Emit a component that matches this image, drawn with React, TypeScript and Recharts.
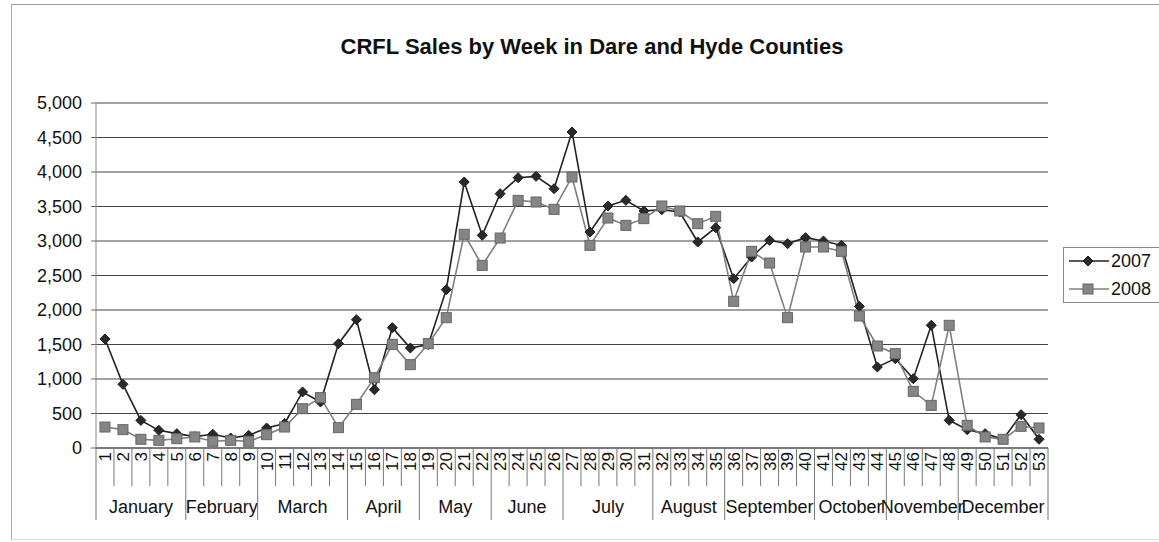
import React from "react";
import { LineChart, Line, XAxis, YAxis, CartesianGrid } from "recharts";

const weeks: string[] = Array.from({ length: 53 }, (_, i) => String(i + 1));

const sales2007: number[] = [
  1580, 923, 400, 256, 208, 165, 200, 145, 183, 290,
  355, 812, 667, 1512, 1860, 845, 1744, 1449, 1500, 2295,
  3855, 3082, 3686, 3918, 3937, 3758, 4580, 3130, 3507, 3589,
  3435, 3454, 3420, 2986, 3193, 2454, 2768, 3010, 2961, 3048,
  3000, 2937, 2053, 1174, 1295, 1005, 1778, 401, 266, 208,
  126, 483, 126,
];

const sales2008: number[] = [
  304, 266, 126, 111, 135, 160, 97, 111, 97, 193,
  304, 570, 730, 295, 633, 1019, 1502, 1208, 1512, 1889,
  3097, 2647, 3043, 3589, 3565, 3459, 3928, 2937, 3333, 3227,
  3324, 3507, 3435, 3251, 3357, 2126, 2850, 2681, 1889, 2913,
  2913, 2850, 1913, 1478, 1367, 821, 618, 1778, 329, 160,
  126, 314, 290,
];

const months: string[] = [
  "January", "February", "March", "April", "May", "June",
  "July", "August", "September", "October", "November", "December",
];
const monthWeeks: number[] = [5, 4, 5, 4, 4, 4, 5, 4, 5, 4, 4, 5];

const yTicks: number[] = [0, 500, 1000, 1500, 2000, 2500, 3000, 3500, 4000, 4500, 5000];

const seriesNames = ["2007", "2008"];

const data = weeks.map((w, i) => ({ week: w, s2007: sales2007[i], s2008: sales2008[i] }));

// index of first week of each month -> month index
const monthStartMap: Record<number, number> = {};
{
  let acc = 0;
  monthWeeks.forEach((n, m) => {
    monthStartMap[acc] = m;
    acc += n;
  });
}

const FONT = "'Liberation Sans', Arial, sans-serif";

const WeekTick = (props: any) => {
  const { x, y, payload, index, width, visibleTicksCount } = props;
  const half =
    payload && typeof payload.offset === "number" && payload.offset > 0
      ? payload.offset
      : width / visibleTicksCount / 2;
  const isMonthStart = monthStartMap[index] !== undefined;
  const isLast = index === weeks.length - 1;
  const m = monthStartMap[index];
  return (
    <g>
      <line
        x1={x - half}
        x2={x - half}
        y1={y}
        y2={y + (isMonthStart ? 72 : 38)}
        stroke="#777"
        strokeWidth={1}
      />
      {isLast && (
        <line x1={x + half} x2={x + half} y1={y} y2={y + 72} stroke="#777" strokeWidth={1} />
      )}
      <text
        x={x}
        y={y + 4}
        transform={`rotate(-90, ${x}, ${y + 4})`}
        textAnchor="end"
        dy="0.35em"
        fontSize={17}
        fontFamily={FONT}
        fill="#111"
      >
        {payload.value}
      </text>
      {isMonthStart && (
        <text
          x={x - half + monthWeeks[m] * half}
          y={y + 65}
          textAnchor="middle"
          fontSize={18}
          fontFamily={FONT}
          fill="#111"
        >
          {months[m]}
        </text>
      )}
    </g>
  );
};

const renderDiamond = (p: any) => {
  const { cx, cy, index } = p;
  if (cx == null || cy == null) return <g key={`d${index}`} />;
  const r = 5;
  return (
    <path
      key={`d${index}`}
      d={`M${cx},${cy - r}L${cx + r},${cy}L${cx},${cy + r}L${cx - r},${cy}Z`}
      fill="#2a2a2a"
      stroke="#1a1a1a"
      strokeWidth={1}
    />
  );
};

const renderSquare = (p: any) => {
  const { cx, cy, index } = p;
  if (cx == null || cy == null) return <g key={`s${index}`} />;
  const r = 5;
  return (
    <rect
      key={`s${index}`}
      x={cx - r}
      y={cy - r}
      width={2 * r}
      height={2 * r}
      fill="#858585"
      stroke="#666"
      strokeWidth={1}
    />
  );
};

export default function App() {
  return (
    <div style={{ position: "absolute", left: 0, top: 0, width: 1159, height: 542, background: "#fff", overflow: "hidden" }}>
      <div
        style={{
          position: "absolute",
          left: 11,
          top: 4,
          width: 1160,
          height: 534,
          borderTop: "1px solid #999",
          borderLeft: "1px solid #aaa",
          borderBottom: "1px solid #ddd",
        }}
      />
      <div
        style={{
          position: "absolute",
          left: 0,
          width: 1184,
          top: 36,
          textAlign: "center",
          fontFamily: FONT,
          fontWeight: "bold",
          fontSize: 22,
          lineHeight: "22px",
          color: "#111",
        }}
      >
        CRFL Sales by Week in Dare and Hyde Counties
      </div>
      <div style={{ position: "absolute", left: 0, top: 0 }}>
        <LineChart
          width={1159}
          height={542}
          data={data}
          margin={{ top: 103, right: 111, bottom: 14, left: 16 }}
        >
          <CartesianGrid horizontal={true} vertical={false} stroke="#444" strokeWidth={1} />
          <XAxis
            dataKey="week"
            scale="band"
            interval={0}
            height={80}
            tickSize={0}
            tickMargin={0}
            tickLine={false}
            axisLine={{ stroke: "#555" }}
            tick={<WeekTick />}
          />
          <YAxis
            domain={[0, 5000]}
            ticks={yTicks}
            width={80}
            tickSize={5}
            tickMargin={9}
            axisLine={{ stroke: "#888" }}
            tickLine={{ stroke: "#666" }}
            tick={{ fontSize: 18, fontFamily: FONT, fill: "#111" }}
            tickFormatter={(v: number) => v.toLocaleString("en-US")}
          />
          <Line
            type="linear"
            dataKey="s2007"
            name={seriesNames[0]}
            stroke="#222"
            strokeWidth={1.6}
            dot={renderDiamond}
            activeDot={false}
            isAnimationActive={false}
          />
          <Line
            type="linear"
            dataKey="s2008"
            name={seriesNames[1]}
            stroke="#7f7f7f"
            strokeWidth={1.6}
            dot={renderSquare}
            activeDot={false}
            isAnimationActive={false}
          />
        </LineChart>
      </div>
      <div
        style={{
          position: "absolute",
          left: 1063,
          top: 247,
          width: 100,
          height: 54,
          border: "1px solid #888",
          background: "#fff",
          fontFamily: FONT,
          fontSize: 18,
          color: "#111",
        }}
      >
        {seriesNames.map((n, i) => (
          <div key={n} style={{ position: "absolute", left: 5, top: i === 0 ? 2 : 30, height: 22, display: "flex", alignItems: "center" }}>
            <svg width={40} height={22} style={{ display: "block" }}>
              <line x1={0} x2={40} y1={11} y2={11} stroke={i === 0 ? "#222" : "#7f7f7f"} strokeWidth={1.6} />
              {i === 0 ? (
                <path d="M19,6L24,11L19,16L14,11Z" fill="#2a2a2a" stroke="#1a1a1a" />
              ) : (
                <rect x={14} y={6} width={10} height={10} fill="#858585" stroke="#666" />
              )}
            </svg>
            <span style={{ marginLeft: 2 }}>{n}</span>
          </div>
        ))}
      </div>
    </div>
  );
}
